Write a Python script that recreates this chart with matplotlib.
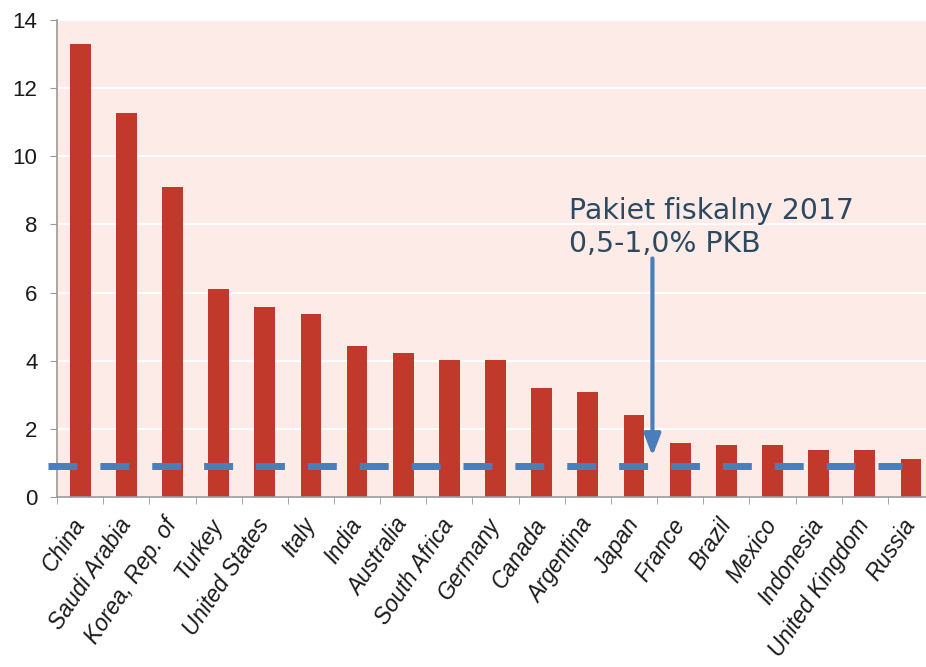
import matplotlib.pyplot as plt
from matplotlib.ticker import FixedLocator

countries = ['China', 'Saudi Arabia', 'Korea, Rep. of', 'Turkey', 'United States', 'Italy',
             'India', 'Australia', 'South Africa', 'Germany', 'Canada', 'Argentina', 'Japan',
             'France', 'Brazil', 'Mexico', 'Indonesia', 'United Kingdom', 'Russia']
values = [13.3, 11.27, 9.1, 6.1, 5.58, 5.37, 4.43, 4.23, 4.02, 4.02, 3.2, 3.08, 2.41,
          1.58, 1.53, 1.53, 1.38, 1.38, 1.12]
package_level = 0.9
note = 'Pakiet fiskalny 2017\n0,5-1,0% PKB'
yticks = [0, 2, 4, 6, 8, 10, 12, 14]

fig = plt.figure(figsize=(9.26, 6.67), dpi=100)
ax = fig.add_axes([0.0616, 0.255, 0.947, 0.715])
ax.set_facecolor('#fcebe7')

x = list(range(len(countries)))
ax.bar(x, values, width=0.45, color='#c0392b', zorder=2)

ax.set_xlim(-0.5, len(countries) - 0.5)
ax.set_ylim(0, 14)
ax.set_yticks(yticks)
ax.yaxis.grid(True, color='white', linewidth=1.5, zorder=1)
ax.set_axisbelow(True)

for s in ['top', 'right']:
    ax.spines[s].set_visible(False)
for s in ['left', 'bottom']:
    ax.spines[s].set_color('#9a9a9a')
    ax.spines[s].set_linewidth(1.2)

ax.tick_params(axis='y', length=5, color='#9a9a9a', pad=9)
for lab in ax.get_yticklabels():
    lab.set_family('Liberation Sans')
    lab.set_fontsize(16)
    lab.set_color('#1a1a1a')

# labels at centres, tick marks at category borders
ax.set_xticks(x)
ax.set_xticklabels(countries, rotation=56, ha='right', va='center',
                   rotation_mode='anchor', style='italic', fontsize=16.3,
                   family='Liberation Sans', color='#1a1a1a')
ax.tick_params(axis='x', which='major', length=0, pad=17)
ax.xaxis.set_minor_locator(FixedLocator([i - 0.5 for i in range(len(countries) + 1)]))
ax.tick_params(axis='x', which='minor', length=5, color='#9a9a9a')

# dashed reference line
ax.plot([-0.7, 17.81], [package_level, package_level], color='#4a7ebb', linewidth=5,
        linestyle=(0, (4.17, 3.3)), clip_on=False, zorder=3)

ax.annotate('', xy=(12.4, 1.2), xytext=(12.4, 7.0),
            arrowprops=dict(arrowstyle='-|>,head_width=0.5,head_length=1.3',
                            color='#4a7ebb', linewidth=3, shrinkA=0, shrinkB=0),
            zorder=4)
ax.text(10.6, 8.8, note, ha='left', va='top', fontsize=20.4, color='#2b4a62',
        family='DejaVu Sans', linespacing=1.2, zorder=4)

fig.savefig('out.png', dpi=100)
